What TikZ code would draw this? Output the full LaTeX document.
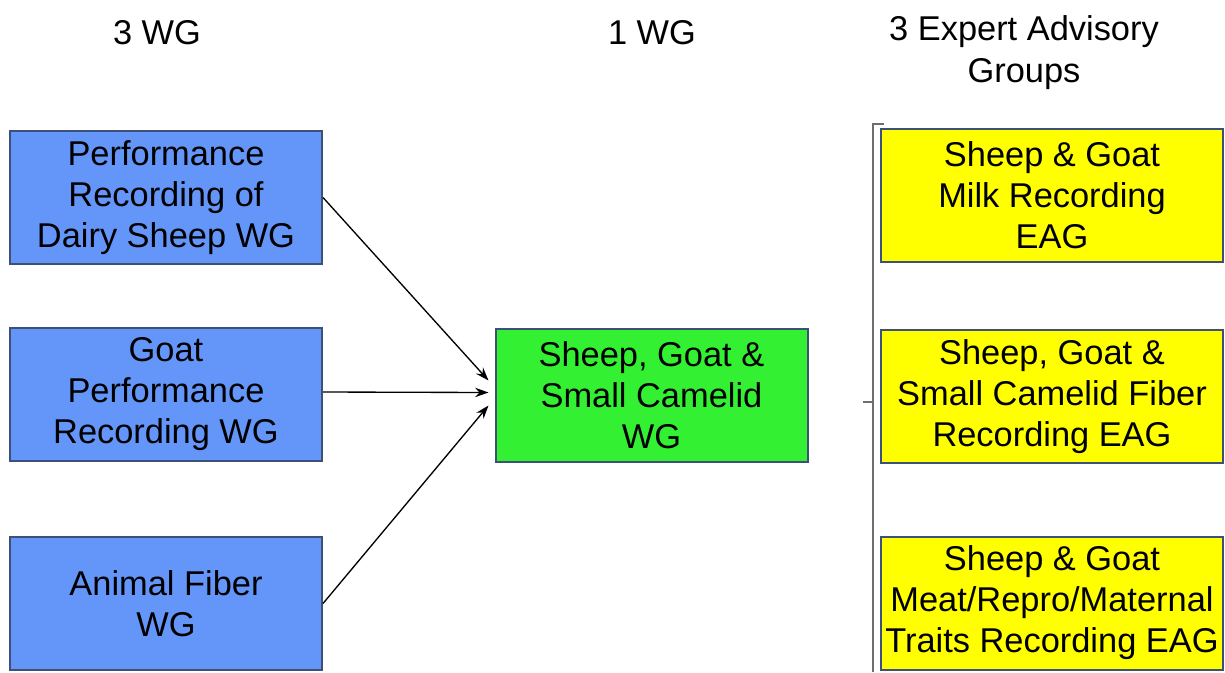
\documentclass[tikz,border=0pt]{standalone}
\usepackage{fontspec}
\setmainfont{Liberation Sans}
\usetikzlibrary{arrows.meta,calc}
\definecolor{bluebox}{RGB}{100,150,250}
\definecolor{greenbox}{RGB}{51,240,51}
\definecolor{yellowbox}{RGB}{255,255,0}
\definecolor{boxedge}{RGB}{60,80,120}
\definecolor{brack}{RGB}{110,110,110}
\tikzset{
  wgbox/.style={draw=boxedge, line width=1.5pt, minimum width=234pt, minimum height=99.75pt,
    inner sep=0pt, align=center, font=\fontsize{25.8}{30.75}\selectfont},
  bluewg/.style={wgbox, fill=bluebox},
  greenwg/.style={wgbox, fill=greenbox},
  eag/.style={wgbox, fill=yellowbox, minimum width=256.5pt},
  header/.style={align=center, font=\fontsize{25.8}{31.5}\selectfont},
  conn/.style={line width=1pt, -{Stealth[length=10pt,width=7pt]}},
  brk/.style={draw=brack, line width=2.2pt}
}
\begin{document}
\begin{tikzpicture}[x=0.75pt,y=-0.75pt]
\useasboundingbox (0,0) rectangle (1225,672);
\node[header] (h1) at (157,33) {3 WG};
\node[header] (h2) at (652,33) {1 WG};
\node[header] (h3) at (1024,53) {3 Expert Advisory\\Groups};

\node[bluewg] (b1) at (166,197.5) {Performance\\Recording of\\Dairy Sheep WG};
\node[bluewg] (b2) at (166,394) {Goat\\Performance\\Recording WG};
\node[bluewg] (b3) at (166,603.5) {Animal Fiber\\WG};

\node[greenwg] (g) at (651.5,395.5) {Sheep, Goat \&\\Small Camelid\\WG};

\node[eag] (y1) at (1052,195.5) {Sheep \& Goat\\Milk Recording\\EAG};
\node[eag] (y2) at (1052,396.5) {Sheep, Goat \&\\Small Camelid Fiber\\Recording EAG};
\node[eag] (y3) at (1052,603) {Sheep \& Goat\\Meat/Repro/Maternal\\Traits Recording EAG};

\draw[conn] (b1.east) -- ($(g.west)+(-6,-15)$);
\draw[conn] ($(b2.east)+(0,-2)$) -- ($(g.west)+(-6,-3)$);
\draw[conn] (b3.east) -- ($(g.west)+(-6,10)$);

\coordinate (bt) at (884,124);
\coordinate (bc) at (873,124);
\coordinate (bb) at (873,672);
\coordinate (tm) at (873,402);
\coordinate (tl) at (863,402);
\draw[brk] (bt) -- (bc) -- (bb);
\draw[brk] (tl) -- (tm);
\end{tikzpicture}
\end{document}
